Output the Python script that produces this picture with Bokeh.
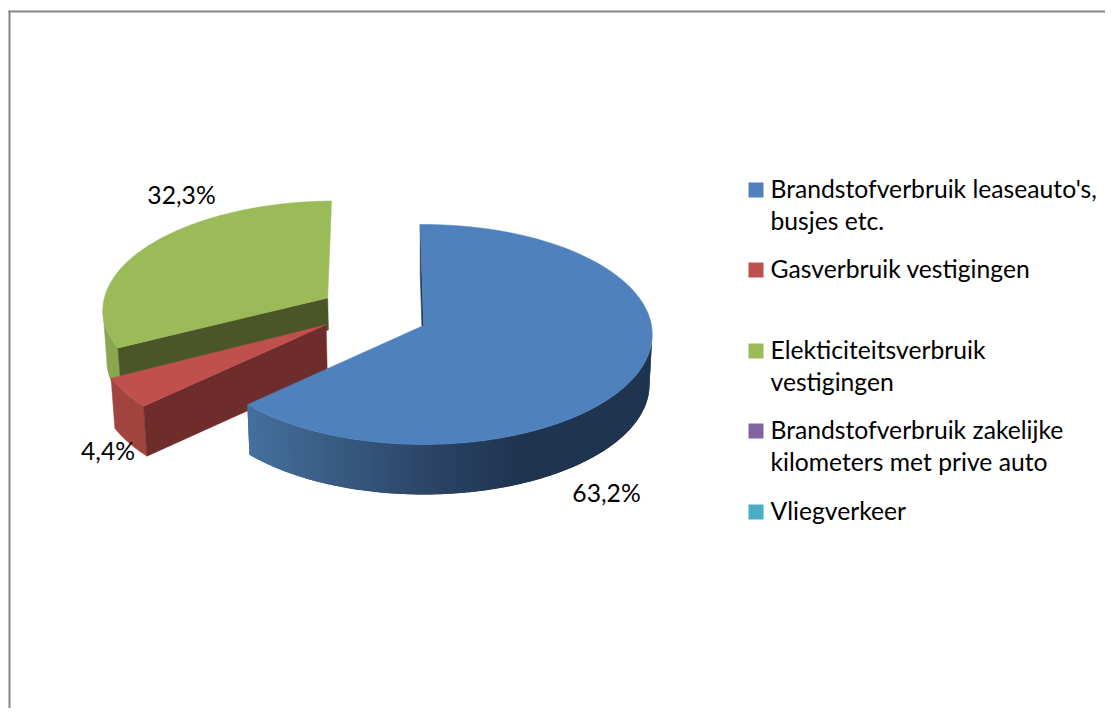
import math
from bokeh.plotting import figure
from bokeh.models import Range1d
from bokeh.core.properties import value
from bokeh.embed import file_html
from bokeh.resources import INLINE

# ---- data ----
categories = ["Brandstofverbruik leaseauto's, busjes etc.", "Gasverbruik vestigingen",
              "Elekticiteitsverbruik vestigingen", "Brandstofverbruik zakelijke kilometers met prive auto",
              "Vliegverkeer"]
shares = [63.2, 4.4, 32.3, 0.0, 0.0]
labels = ["63,2%", "4,4%", "32,3%"]
colors = ["#4f81bd", "#c0504d", "#9bbb59", "#8064a2", "#4bacc6"]
legend_lines = [["Brandstofverbruik leaseauto's,", "busjes etc."], ["Gasverbruik vestigingen"],
                ["Elekticiteitsverbruik", "vestigingen"], ["Brandstofverbruik zakelijke", "kilometers met prive auto"],
                ["Vliegverkeer"]]

# ---- geometry of the projected disk ----
W, H = 1105, 708
CX, CY, A, B, K = 423.0, 325.0, 228.0, 109.25, 0.0817
DEPTH, TAPER = 50.0, 0.988
START = -0.9
EXPLODE = [0.0, 0.5, 0.5]
SHIFT_X = [0.0, -2.0, 0.0]
SHIFT_Y = [0.0, -33.0, 0.0]
RADIUS = [1.0, 0.98, 1.0]
FONT = value("Lato")
FS = "24.7px"

total = sum(shares)
spans, a0 = [], START
for s in shares[:3]:
    a1 = a0 + 360.0 * s / total
    spans.append((a0, a1))
    a0 = a1

def proj(i, th, r=1.0, down=0.0):
    a0, a1 = spans[i]
    mid = math.radians((a0 + a1) / 2)
    t = math.radians(th)
    rr = r * RADIUS[i]
    u = EXPLODE[i] * math.sin(mid) + rr * math.sin(t)
    v = EXPLODE[i] * math.cos(mid) + rr * math.cos(t)
    d = 1 + K * v
    x = A * u / d
    y = -B * v / d + SHIFT_Y[i]
    f = 1 + (TAPER - 1) * down / DEPTH
    return CX + x * f + SHIFT_X[i], CY + y + down

def arc(a, b, n=90):
    return [a + (b - a) * j / n for j in range(n + 1)]

def top(i):
    a0, a1 = spans[i]
    pts = [proj(i, 0, 0.0)] + [proj(i, t) for t in arc(a0, a1)]
    return [q[0] for q in pts], [q[1] for q in pts]

def wall(i, a, b, n=60, depth=DEPTH):
    ts = arc(a, b, n)
    up = [proj(i, t) for t in ts]
    lo = [proj(i, t, 1.0, depth) for t in reversed(ts)]
    pts = up + lo
    return [q[0] for q in pts], [q[1] for q in pts]

def face(i, th, depth=DEPTH):
    pts = [proj(i, 0, 0.0), proj(i, th), proj(i, th, 1.0, depth), proj(i, 0, 0.0, depth)]
    return [q[0] for q in pts], [q[1] for q in pts]

p = figure(width=W, height=H, output_backend="svg", toolbar_location=None,
           x_range=Range1d(0, W), y_range=Range1d(H, 0), min_border=0,
           outline_line_color=None, background_fill_color="white", border_fill_color="white")
p.xaxis.visible = False
p.yaxis.visible = False
p.grid.visible = False

def shape(xy, c):
    p.patch(xy[0], xy[1], fill_color=c, line_color=c, line_width=0.5)

# chart frame
p.line([9, 9], [10, H], line_color="#868686", line_width=2)
p.line([8, W], [11, 11], line_color="#868686", line_width=2)

# green slice
left_end = min(arc(*spans[2], 200), key=lambda t: proj(2, t)[0])
shape(wall(2, spans[2][0], left_end), "#8aa650")
shape(face(2, spans[2][0], 32.0), "#4a5528")
shape(top(2), colors[2])
# red slice
shape(wall(1, spans[1][0], spans[1][1], 20), "#a1433f")
shape(face(1, spans[1][0]), "#6e2c2b")
shape(top(1), colors[1])
# blue slice
shape(face(0, spans[0][0]), "#1f344f")
stops = [(250, (0x44, 0x70, 0x9f)), (430, (0x2c, 0x46, 0x67)), (525, (0x1f, 0x34, 0x4f)), (660, (0x1f, 0x34, 0x4f))]
def shade(x):
    for (x0, c0), (x1, c1) in zip(stops, stops[1:]):
        if x <= x1:
            f = max(0.0, (x - x0) / (x1 - x0))
            return "#%02x%02x%02x" % tuple(round(m + (n - m) * f) for m, n in zip(c0, c1))
    return "#1f344f"
N = 90
lo_a = max(arc(*spans[0], 400), key=lambda t: proj(0, t)[0])
hi_a = spans[0][1]
for j in range(N):
    a = hi_a + (lo_a - hi_a) * max(j - 1, 0) / N
    b = hi_a + (lo_a - hi_a) * (j + 1) / N
    xy = wall(0, a, b, 3)
    c = shade(proj(0, hi_a + (lo_a - hi_a) * (j + 0.5) / N)[0])
    p.patch(xy[0], xy[1], fill_color=c, line_color=None)
shape(top(0), colors[0])

# data labels
for txt, (x, y) in zip(labels, [(606, 492), (107.5, 450), (181, 194)]):
    p.text([x], [y], text=[txt], text_font=FONT, text_font_size=FS, text_color="#000000",
           text_align="center", text_baseline="middle")

# legend
for c, lines, ky in zip(colors, legend_lines, [189.5, 269.5, 350.5, 430.5, 511.5]):
    p.rect([755.5], [ky], width=15, height=15, fill_color=c, line_color=None)
    for k, t in enumerate(lines):
        p.text([770], [ky - 2 + k * 32.5], text=[t], text_font=FONT, text_font_size=FS,
               text_color="#000000", text_align="left", text_baseline="middle")

open("out.html", "w").write(file_html(p, INLINE))
